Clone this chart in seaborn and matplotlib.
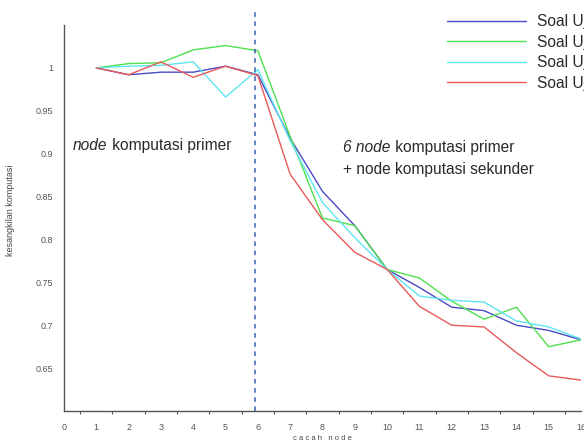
import numpy as np
import pandas as pd
import matplotlib
matplotlib.use("Agg")
import matplotlib.pyplot as plt
import seaborn as sns
from matplotlib.ticker import MultipleLocator

nodes = list(range(1, 17))
series_names = ["Soal Uji 1", "Soal Uji 2", "Soal Uji 3", "Soal Uji 4"]
blue = [1.000, 0.992, 0.995, 0.995, 1.002, 0.992, 0.918, 0.856, 0.816, 0.765, 0.744, 0.721, 0.717, 0.700, 0.694, 0.683]
green = [1.000, 1.005, 1.006, 1.021, 1.026, 1.020, 0.920, 0.825, 0.816, 0.765, 0.755, 0.728, 0.707, 0.721, 0.675, 0.683]
cyan = [1.000, 1.002, 1.003, 1.007, 0.966, 0.998, 0.915, 0.843, 0.802, 0.765, 0.734, 0.729, 0.727, 0.705, 0.698, 0.684]
red = [1.000, 0.992, 1.007, 0.989, 1.002, 0.991, 0.876, 0.823, 0.785, 0.765, 0.722, 0.700, 0.698, 0.668, 0.641, 0.636]
colors = ["#4a4ac8", "#4ee04e", "#5ee6f0", "#e85a5a"]
divider_x = 5.9

df = pd.DataFrame({
    "node": nodes * 4,
    "value": blue + green + cyan + red,
    "series": sum([[n] * 16 for n in series_names], []),
})

sns.set_style("white")
plt.rcParams['font.family'] = ['Liberation Sans', 'DejaVu Sans']

fig = plt.figure(figsize=(5.84, 4.45), dpi=100)
ax = fig.add_axes([64 / 584, 34 / 445, (581 - 64) / 584, (411 - 25) / 445])

sns.lineplot(data=df, x="node", y="value", hue="series", palette=colors,
             linewidth=1.0, ax=ax, legend=True)

ax.set_xlim(0, 16)
ax.set_ylim(0.6, 1.05)
ax.xaxis.set_major_locator(MultipleLocator(1))
ax.xaxis.set_minor_locator(MultipleLocator(0.5))
ax.set_yticks([0.65, 0.7, 0.75, 0.8, 0.85, 0.9, 0.95, 1.0])
ax.set_yticklabels(["0.65", "0.7", "0.75", "0.8", "0.85", "0.9", "0.95", "1"])
for s in ["top", "right"]:
    ax.spines[s].set_visible(False)
for s in ["left", "bottom"]:
    ax.spines[s].set_color("#555555")
    ax.spines[s].set_linewidth(1.0)
ax.tick_params(axis="both", which="major", labelsize=6.5, labelcolor="#555555",
               color="#555555", length=5, width=0.9, direction="out")
ax.tick_params(axis="x", which="minor", length=2.5, width=0.8, color="#555555",
               direction="out", bottom=True)
ax.tick_params(axis="y", pad=3)
ax.tick_params(axis="x", pad=4)

ax.set_xlabel("c a c a h   n o d e", fontsize=5.5, color="#444444", labelpad=2)
ax.set_ylabel("kesangkilan komputasi", fontsize=6.5, color="#444444")
ax.yaxis.set_label_coords(-0.095, 0.52)

ax.axvline(divider_x, ymin=0, ymax=1.033, color="#3a5fb0", linestyle=(0, (3, 3)),
           linewidth=1.1, clip_on=False)

txt_kw = dict(fontsize=11.2, color="#2a2a2a")
t1 = ax.text(0.28, 0.909, "node", style="italic", va="center", **txt_kw)
ax.annotate(" komputasi primer", xy=(1, 0), xycoords=t1, va="bottom", **txt_kw)
t2 = ax.text(8.64, 0.907, "6 node", style="italic", va="center", **txt_kw)
ax.annotate(" komputasi primer", xy=(1, 0), xycoords=t2, va="bottom", **txt_kw)
ax.text(8.64, 0.881, "+ node komputasi sekunder", va="center", **txt_kw)

handles, labels = ax.get_legend_handles_labels()
ax.legend(handles, labels, loc="upper left", bbox_to_anchor=(447 / 584, 1 - 14 / 445),
          bbox_transform=fig.transFigure, frameon=False, fontsize=11.2,
          handlelength=5.1, handletextpad=0.7, labelspacing=0.36, borderpad=0,
          borderaxespad=0, labelcolor="#2a2a2a")

fig.savefig("out.png", dpi=100)
